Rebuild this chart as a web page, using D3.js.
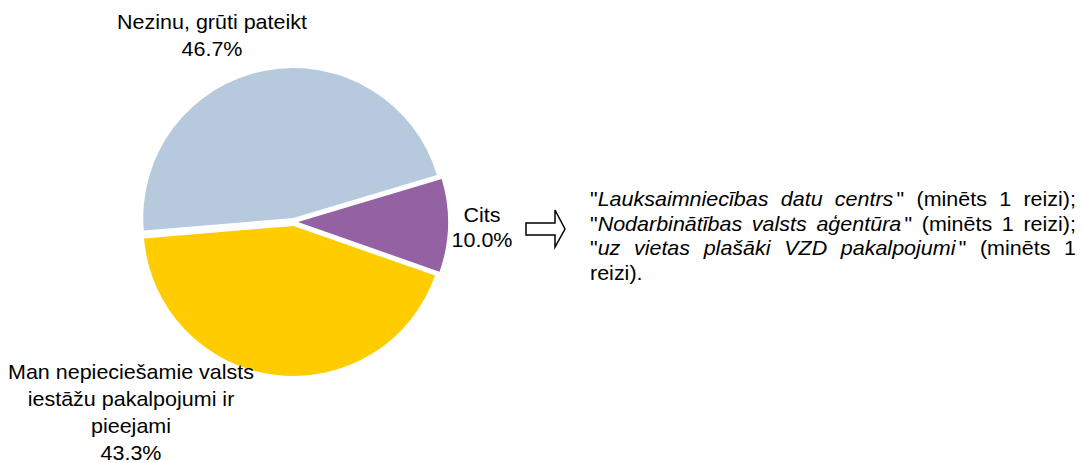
<!DOCTYPE html>
<html>
<head>
<meta charset="utf-8">
<script src="https://cdn.jsdelivr.net/npm/d3@7"></script>
<style>
  body { margin: 0; background: #fff; }
  svg text { font-family: "Liberation Sans", Arial, sans-serif; fill: #000; }
</style>
</head>
<body>
<svg id="chart" width="1083" height="463"></svg>
<script>
// data
const categories = ['Nezinu, grūti pateikt', 'Cits', 'Man nepieciešamie valsts iestāžu pakalpojumi ir pieejami'];
const values = [46.7, 10.0, 43.3];
const colors = ['#b7c9dd', '#9461a3', '#ffcc00'];
const labelLines = [
  ['Nezinu, grūti pateikt'],
  ['Cits'],
  ['Man nepieciešamie valsts', 'iestāžu pakalpojumi ir', 'pieejami']
];
// words wrapped in _..._ are italic
const noteLines = [
  '"_Lauksaimniecības_ _datu_ _centrs_" (minēts 1 reizi);',
  '"_Nodarbinātības_ _valsts_ _aģentūra_" (minēts 1 reizi);',
  '"_uz_ _vietas_ _plašāki_ _VZD_ _pakalpojumi_" (minēts 1',
  'reizi).'
];

const svg = d3.select('#chart');
const cx = 294, cy = 222, radius = 150, explode = 4;
const fontSize = 20, sx = 1.075; // text in the reference is slightly stretched

const pie = d3.pie().sort(null).value(d => d)
  .startAngle(-94.8 * Math.PI / 180).endAngle(265.2 * Math.PI / 180);
const arc = d3.arc().innerRadius(0).outerRadius(radius);
const arcs = pie(values);

const g = svg.append('g').attr('transform', `translate(${cx},${cy})`);
g.selectAll('path').data(arcs).enter().append('path')
  .attr('d', arc)
  .attr('fill', (d, i) => colors[i])
  .attr('transform', d => {
    const a = (d.startAngle + d.endAngle) / 2;
    return `translate(${Math.sin(a) * explode},${-Math.cos(a) * explode})`;
  });

// slice labels
const labelPos = [
  { x: 212, y: 29, dy: 27 },
  { x: 482, y: 222, dy: 25 },
  { x: 131, y: 379, dy: 27 }
];
labelLines.forEach((lines, i) => {
  const p = labelPos[i];
  const t = svg.append('text').attr('text-anchor', 'middle')
    .attr('transform', `translate(${p.x},${p.y}) scale(${sx},1)`)
    .style('font-size', fontSize + 'px');
  lines.concat([values[i].toFixed(1) + '%']).forEach((line, j) => {
    t.append('tspan').attr('x', 0).attr('y', j * p.dy).text(line);
  });
});

// arrow
const ax = 526, ay = 229;
svg.append('path')
  .attr('d', `M${ax},${ay - 6} H${ax + 29} V${ay - 19} L${ax + 39},${ay} L${ax + 29},${ay + 18} V${ay + 6} H${ax} Z`)
  .attr('fill', '#fff').attr('stroke', '#000').attr('stroke-width', 1.5);

// justified note text
const x0 = 590, x1 = 1076, y0 = 206, lineH = 24.5, quoteGap = 3;
const measure = w => {
  const wg = svg.append('text').style('font-size', fontSize + 'px');
  let extra = 0;
  w.split('_').forEach((seg, k) => {
    if (!seg) return;
    if (k === 2) extra += quoteGap;
    wg.append('tspan').style('font-style', k % 2 ? 'italic' : 'normal').text(seg);
  });
  const width = wg.node().getComputedTextLength() + extra;
  wg.remove();
  return width;
};
noteLines.forEach((line, li) => {
  const words = line.split(' ');
  const t = svg.append('text')
    .attr('transform', `translate(${x0},${y0 + li * lineH}) scale(${sx},1)`)
    .style('font-size', fontSize + 'px');
  const widths = words.map(measure);
  const total = d3.sum(widths);
  const last = li === noteLines.length - 1;
  const W = (x1 - x0) / sx;
  const gap = last ? fontSize * 0.278 : (W - total) / (words.length - 1);
  let x = 0;
  words.forEach((w, wi) => {
    let first = true;
    w.split('_').forEach((seg, k) => {
      if (!seg) return;
      const sp = t.append('tspan').style('font-style', k % 2 ? 'italic' : 'normal').text(seg);
      if (first) { sp.attr('x', x); first = false; }
      else if (k === 2) sp.attr('dx', quoteGap);
    });
    x += widths[wi] + gap;
  });
});
</script>
</body>
</html>
